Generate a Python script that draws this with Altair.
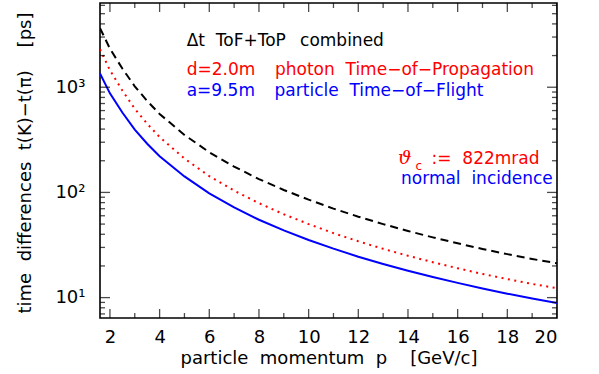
import altair as alt
import pandas as pd

# ---- data ----
p_vals = [1.6, 2, 2.5, 3, 3.5, 4, 5, 6, 7, 8, 9, 10, 11, 12, 13, 14, 15, 16, 17, 18, 19, 20]
tof_ps = [1350, 875, 575, 395, 290, 221, 142, 98, 72, 55, 43.5, 35.3, 29.2, 24.5, 20.9,
          18.0, 15.7, 13.8, 12.2, 10.9, 9.8, 8.9]
top_ps = [2300, 1450, 930, 625, 450, 336, 210, 143, 104, 79, 62, 50, 41, 34.3, 29.1,
          25.0, 21.7, 19.0, 16.8, 15.0, 13.5, 12.3]
comb_ps = [3650, 2325, 1505, 1020, 740, 557, 352, 241, 176, 134, 105.5, 85.3, 70.2, 58.8,
           50.0, 43.0, 37.4, 32.8, 29.0, 25.9, 23.3, 21.2]

x_major = [2, 4, 6, 8, 10, 12, 14, 16, 18, 20]
x_minor = [3, 5, 7, 9, 11, 13, 15, 17, 19]
y_major = [10, 100, 1000]
y_minor = [7, 8, 9, 20, 30, 40, 50, 60, 70, 80, 90,
           200, 300, 400, 500, 600, 700, 800, 900, 2000, 3000, 4000, 5000, 6000]

S2 = "\u00a0\u00a0"
S2t = "\u00a0\u00a0\u2009"
S3 = "\u00a0\u00a0\u00a0\u2009"
ann_text = ["Δt" + S2 + "ToF+ToP" + S2t + "combined",
            "d=2.0m" + S3 + "photon" + S2 + "Time\u2212of\u2212Propagation",
            "a=9.5m" + S3 + "particle" + S2 + "Time\u2212of\u2212Flight",
            ":=" + S2 + "822mrad",
            "normal" + S2 + "incidence"]
ann_p = [5.09, 5.09, 5.09, 14.95, 13.72]
ann_v = [2466, 1306, 826, 185, 120]
ann_col = ["black", "red", "blue", "red", "blue"]
theta_text = ["ϑ"]
theta_p = [13.60]
theta_v = [185]
sub_text = ["c"]
sub_p = [14.3]
sub_v = [162]

FONT = "DejaVu Sans"
W, H = 457, 315

xs = alt.Scale(domain=[1.6, 20], zero=False, nice=False)
ys = alt.Scale(type="log", domain=[6.4, 6320], nice=False)

x_axis = alt.Axis(
    values=x_major, ticks=False, tickSize=0, domain=False, grid=False,
    labelFont=FONT, labelFontSize=18, labelColor="black", labelPadding=10,
    title="particle\u00a0\u00a0momentum\u00a0\u00a0p\u00a0\u00a0\u00a0\u00a0[GeV/c]",
    titleFont=FONT, titleFontSize=18, titleFontWeight="normal", titleColor="black",
    titleY=45, titleBaseline="alphabetic")
y_axis = alt.Axis(
    values=y_major, ticks=False, tickSize=0, domain=False, grid=False,
    labelExpr="datum.value == 10 ? '10¹' : datum.value == 100 ? '10²' : '10³'",
    labelFont=FONT, labelFontSize=18, labelColor="black", labelPadding=15,
    title="time\u00a0\u00a0differences\u00a0\u00a0t(K)\u2212t(\u03c0)\u00a0\u00a0\u00a0\u00a0[ps]",
    titleFont=FONT, titleFontSize=18, titleFontWeight="normal", titleColor="black",
    titleX=-75, titleY=H / 2 + 2, titleAngle=270, titleBaseline="middle")

X = lambda f: alt.X(f, scale=xs, axis=x_axis)
Y = lambda f: alt.Y(f, scale=ys, axis=y_axis)


def curve(vals, color, dash):
    df = pd.DataFrame({"p": p_vals, "v": vals})
    kw = dict(color=color, strokeWidth=2, clip=True)
    if dash:
        kw["strokeDash"] = dash
    return alt.Chart(df).mark_line(**kw).encode(x=X("p:Q"), y=Y("v:Q"))


blue = curve(tof_ps, "blue", None)
red = curve(top_ps, "red", [2, 4.5])
black = curve(comb_ps, "black", [8, 5])


def xticks(vals, length):
    df = pd.DataFrame({"p": vals})
    base = alt.Chart(df).mark_tick(orient="vertical", size=2 * length, thickness=1.3,
                                   color="black", clip=True)
    return [base.encode(x=X("p:Q"), y=alt.value(H)),
            base.encode(x=X("p:Q"), y=alt.value(0))]


def yticks(vals, length):
    df = pd.DataFrame({"v": vals})
    base = alt.Chart(df).mark_tick(orient="horizontal", size=2 * length, thickness=1.3,
                                   color="black", clip=True)
    return [base.encode(y=Y("v:Q"), x=alt.value(0)),
            base.encode(y=Y("v:Q"), x=alt.value(W))]


ticks = xticks(x_major, 9) + xticks(x_minor, 5) + yticks(y_major, 10) + yticks(y_minor, 5)

ann_df = pd.DataFrame({"p": ann_p, "v": ann_v, "t": ann_text, "c": ann_col})
ann = alt.Chart(ann_df).mark_text(align="left", baseline="alphabetic", font=FONT,
                                   fontSize=17).encode(
    x=X("p:Q"), y=Y("v:Q"), text="t:N", color=alt.Color("c:N", scale=None))
theta_df = pd.DataFrame({"p": theta_p, "v": theta_v, "t": theta_text})
theta = alt.Chart(theta_df).mark_text(align="left", baseline="alphabetic",
                                       font="DejaVu Serif", fontStyle="italic",
                                       fontSize=19, color="red").encode(
    x=X("p:Q"), y=Y("v:Q"), text="t:N")
sub_df = pd.DataFrame({"p": sub_p, "v": sub_v, "t": sub_text})
sub = alt.Chart(sub_df).mark_text(align="left", baseline="alphabetic", font=FONT,
                                   fontSize=12, color="red").encode(
    x=X("p:Q"), y=Y("v:Q"), text="t:N")

chart = alt.layer(blue, red, black, *ticks, ann, theta, sub).properties(
    width=W, height=H,
    padding={"left": 100, "top": 3, "right": 42, "bottom": 56},
    autosize="none",
    background="white",
).configure_view(stroke="black", strokeWidth=1.6)

chart.save("out.html", embed_options={"renderer": "svg", "actions": False})
